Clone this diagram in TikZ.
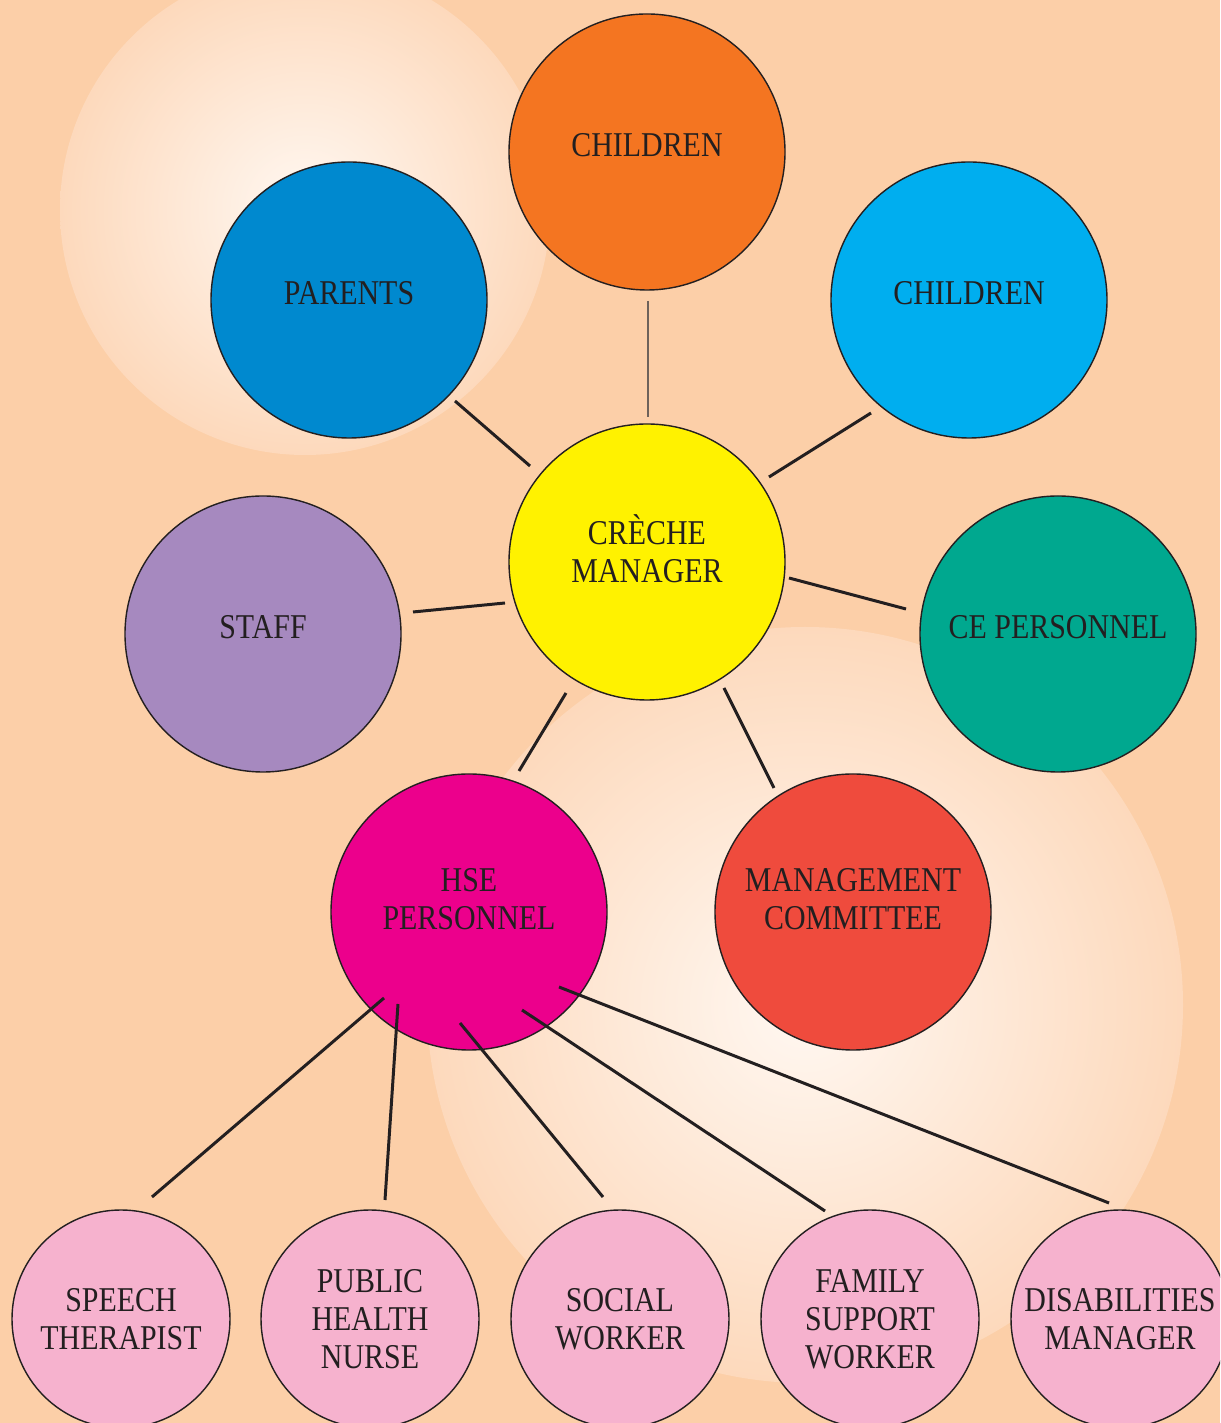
\documentclass[tikz,border=0pt]{standalone}
\usepackage{fontspec}
\setmainfont{Liberation Serif}[FakeStretch=0.86]
\usetikzlibrary{calc}
\definecolor{peach}{RGB}{252,207,168}
\definecolor{glowin}{RGB}{255,248,242}
\definecolor{glowout}{RGB}{253,217,188}
\definecolor{ink}{RGB}{35,31,32}
\definecolor{thinline}{RGB}{110,98,90}
\definecolor{orangec}{RGB}{244,117,33}
\definecolor{bluec}{RGB}{0,137,207}
\definecolor{skyc}{RGB}{0,174,239}
\definecolor{yellowc}{RGB}{255,242,0}
\definecolor{purplec}{RGB}{166,137,191}
\definecolor{tealc}{RGB}{0,168,143}
\definecolor{magentac}{RGB}{236,0,140}
\definecolor{redc}{RGB}{239,75,61}
\definecolor{pinkc}{RGB}{246,178,206}
\tikzset{
  bubble/.style={circle, draw=ink, line width=0.4pt, minimum size=2.76cm, inner sep=0pt,
    align=center, text=ink, font=\fontsize{9.9}{10.8}\selectfont, text depth=3.8pt},
  twoline/.style={text depth=7.6pt},
  smallbubble/.style={bubble, fill=pinkc, minimum size=2.18cm, text depth=0pt},
  link/.style={draw=ink, line width=0.85pt},
}

\begin{document}
\begin{tikzpicture}
		%%%%% START %%%%%
		\useasboundingbox (0, 0) rectangle (12.2, 14.23);
		\clip (0, 0) rectangle (12.2, 14.23);
		\fill[peach] (0, 0) rectangle (12.2, 14.23);
		
		% soft glows behind the circles
		\shade[inner color=glowin, outer color=glowout] (3.05, 12.13) circle (2.45);
		\shade[inner color=glowin, outer color=glowout] (8.05, 4.18) circle (3.78);
		
		\node[bubble, fill=orangec] (kids) at (6.47, 12.71) {CHILDREN};
		\node[bubble, fill=bluec] (parents) at (3.49, 11.23) {PARENTS};
		\node[bubble, fill=skyc] (kidsright) at (9.69, 11.23) {CHILDREN};
		\node[bubble, twoline, fill=yellowc] (manager) at (6.47, 8.61) {CRÈCHE\\MANAGER};
		\node[bubble, fill=purplec] (staff) at (2.63, 7.89) {STAFF};
		\node[bubble, fill=tealc] (ce) at (10.58, 7.89) {CE PERSONNEL};
		\node[bubble, twoline, fill=magentac] (hse) at (4.69, 5.11) {HSE\\PERSONNEL};
		\node[bubble, twoline, fill=redc] (committee) at (8.53, 5.11) {MANAGEMENT\\COMMITTEE};
		
		\node[smallbubble] (speech) at (1.21, 1.04) {SPEECH\\THERAPIST};
		\node[smallbubble] (nurse) at (3.70, 1.04) {PUBLIC\\HEALTH\\NURSE};
		\node[smallbubble] (social) at (6.20, 1.04) {SOCIAL\\WORKER};
		\node[smallbubble] (family) at (8.70, 1.04) {FAMILY\\SUPPORT\\WORKER};
		\node[smallbubble] (disab) at (11.20, 1.04) {DISABILITIES\\MANAGER};
		
		% links round the manager
		\draw[thinline, line width=0.5pt] ($(kids)+(0.01,-1.49)$) -- ($(manager)+(0.01,1.45)$);
		\draw[link] ($(parents)+(1.06,-1.01)$) -- ($(manager)+(-1.17,0.96)$);
		\draw[link] ($(kidsright)+(-0.98,-1.13)$) -- ($(manager)+(1.22,0.85)$);
		\draw[link] ($(staff)+(1.50,0.22)$) -- ($(manager)+(-1.42,-0.41)$);
		\draw[link] ($(manager)+(1.42,-0.16)$) -- ($(ce)+(-1.52,0.25)$);
		\draw[link] ($(manager)+(-0.81,-1.31)$) -- ($(hse)+(0.50,1.41)$);
		\draw[link] ($(manager)+(0.77,-1.26)$) -- ($(committee)+(-0.79,1.24)$);
		
		% links below the HSE
		\draw[link] ($(hse)+(-0.85,-0.86)$) -- ($(speech)+(0.31,1.22)$);
		\draw[link] ($(hse)+(-0.71,-0.92)$) -- ($(nurse)+(0.15,1.19)$);
		\draw[link] ($(hse)+(-0.09,-1.11)$) -- ($(social)+(-0.17,1.22)$);
		\draw[link] ($(hse)+(0.53,-0.98)$) -- ($(family)+(-0.45,1.08)$);
		\draw[link] ($(hse)+(0.90,-0.75)$) -- ($(disab)+(-0.11,1.16)$);
		%%%%% END %%%%%
	\end{tikzpicture}
\end{document}
